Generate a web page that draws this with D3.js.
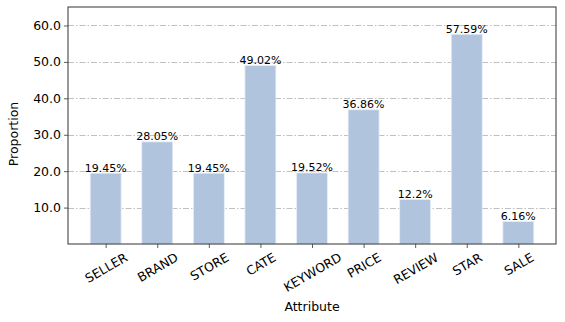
<!DOCTYPE html>
<html>
<head>
<meta charset="utf-8">
<script src="https://cdn.jsdelivr.net/npm/d3@7"></script>
<style>
  body { margin: 0; background: #fff; }
  text { font-family: "DejaVu Sans", sans-serif; }
</style>
</head>
<body>
<div id="chart"></div>
<script>
// categories and their proportions (%)
var attributes  = ['SELLER', 'BRAND', 'STORE', 'CATE', 'KEYWORD', 'PRICE', 'REVIEW', 'STAR', 'SALE'];
var proportions = [19.45, 28.05, 19.45, 49.02, 19.52, 36.86, 12.2, 57.59, 6.16];
var y_ticks     = [10, 20, 30, 40, 50, 60];

var chart_width  = 565;
var chart_height = 322;
var plot_left = 68, plot_right = 556, plot_top = 7, plot_bottom = 244;

// matplotlib-like band: bar width 0.6, 5% margins
var x_scale = d3.scaleLinear()
                .domain([-0.73, attributes.length - 1 + 0.73])
                .range([plot_left, plot_right]);
var y_scale = d3.scaleLinear()
                .domain([0, d3.max(proportions) * 1.13])
                .range([plot_bottom, plot_top]);

var svg = d3.select('#chart')
            .append('svg')
            .attr('width', chart_width)
            .attr('height', chart_height);

// grid lines
svg.append('g')
   .selectAll('line')
   .data(y_ticks)
   .enter()
   .append('line')
   .attr('x1', plot_left)
   .attr('x2', plot_right)
   .attr('y1', function(d) { return Math.round(y_scale(d)) + 0.5; })
   .attr('y2', function(d) { return Math.round(y_scale(d)) + 0.5; })
   .attr('stroke', '#b0b0b0')
   .attr('stroke-width', 0.8)
   .attr('stroke-dasharray', '6,2,1.5,2');

// bars
svg.append('g')
   .selectAll('rect')
   .data(proportions)
   .enter()
   .append('rect')
   .attr('x', function(d, i) { return x_scale(i - 0.3); })
   .attr('width', x_scale(0.6) - x_scale(0))
   .attr('y', function(d) { return y_scale(d); })
   .attr('height', function(d) { return y_scale(0) - y_scale(d); })
   .attr('fill', '#b0c4de')
   .attr('stroke', '#e8eef6')
   .attr('stroke-width', 0.8);

// value labels
svg.append('g')
   .selectAll('text')
   .data(proportions)
   .enter()
   .append('text')
   .attr('x', function(d, i) { return x_scale(i); })
   .attr('y', function(d) { return y_scale(d) - 1.5; })
   .attr('text-anchor', 'middle')
   .attr('font-size', 11)
   .attr('fill', '#000')
   .text(function(d) { return d + '%'; });

// y axis
var y_axis = d3.axisLeft(y_scale)
               .tickValues(y_ticks)
               .tickSize(4)
               .tickFormat(d3.format('.1f'));
var gy = svg.append('g')
   .attr('transform', 'translate(' + plot_left + ',0)')
   .call(y_axis);
gy.select('.domain').remove();
gy.selectAll('text').attr('font-size', 12.5).attr('fill', '#000').attr('x', -7);
gy.selectAll('line').attr('stroke', '#333').attr('stroke-width', 0.8);

// x axis
var x_axis = d3.axisBottom(x_scale)
               .tickValues(d3.range(attributes.length))
               .tickSize(4)
               .tickFormat(function(i) { return attributes[i]; });
var gx = svg.append('g')
   .attr('transform', 'translate(0,' + plot_bottom + ')')
   .call(x_axis);
gx.select('.domain').remove();
gx.selectAll('line').attr('stroke', '#333').attr('stroke-width', 0.8);
gx.selectAll('text')
  .attr('font-size', 12.5)
  .attr('fill', '#000')
  .attr('y', 0)
  .attr('dy', 0)
  .attr('text-anchor', 'middle')
  .attr('dominant-baseline', 'central')
  .attr('transform', function() {
      var w = this.getComputedTextLength();
      var a = 30 * Math.PI / 180;
      var h = 12.5 * 0.95;
      // center of the rotated box sits below the tick
      var bh = w * Math.sin(a) + h * Math.cos(a);
      return 'translate(0,' + (7 + bh / 2) + ') rotate(-30)';
  });

// frame
svg.append('rect')
   .attr('x', plot_left)
   .attr('y', plot_top)
   .attr('width', plot_right - plot_left)
   .attr('height', plot_bottom - plot_top)
   .attr('fill', 'none')
   .attr('stroke', '#333')
   .attr('stroke-width', 1);

// axis titles
svg.append('text')
   .attr('x', (plot_left + plot_right) / 2)
   .attr('y', 311)
   .attr('text-anchor', 'middle')
   .attr('font-size', 12.5)
   .text('Attribute');
svg.append('text')
   .attr('transform', 'translate(18,134) rotate(-90)')
   .attr('text-anchor', 'middle')
   .attr('font-size', 12.5)
   .text('Proportion');
</script>
</body>
</html>
